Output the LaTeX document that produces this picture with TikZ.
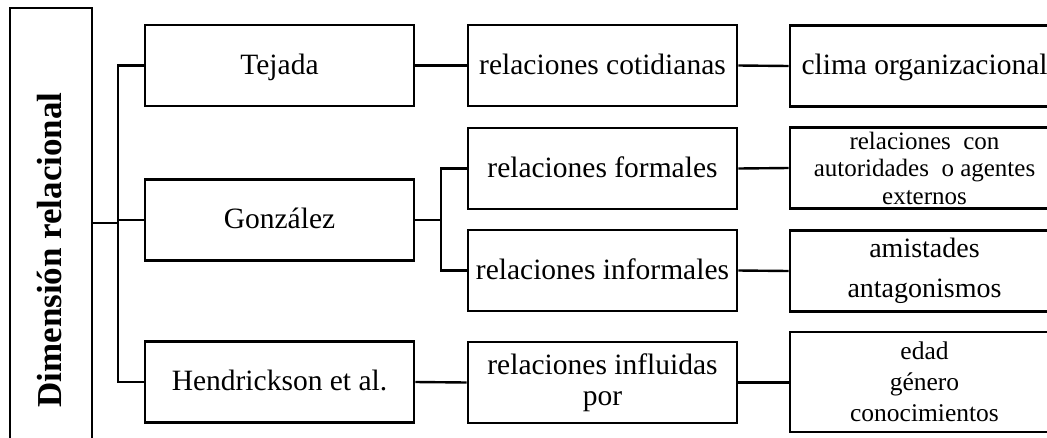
\documentclass[tikz,border=0pt]{standalone}
\usepackage{fontspec}
\setmainfont{Liberation Serif}
\begin{document}
\begin{tikzpicture}[x=1pt,y=-1pt,
  box/.style={draw=black,line width=2.6pt,fill=white,inner sep=0pt,minimum width=269pt,minimum height=81pt,align=center,font=\fontsize{29.5}{34}\selectfont},
  one/.style={text height=20pt,text depth=3pt},
  conn/.style={draw=black,line width=2.4pt}]
\useasboundingbox (0,0) rectangle (1047,437);
\clip (0,0) rectangle (1047,437);
% left box
\node[box,minimum width=82pt,minimum height=500pt] (L) at (51,258) {};
\node[rotate=90,font=\bfseries\fontsize{35}{40}\selectfont] (Lt) at (50,250) {Dimensión relacional};
% column 1
\node[box,one] (A) at (279.5,65.5) {Tejada};
\node[box,one] (B) at (279.5,220) {González};
\node[box,one] (C) at (279.5,382) {Hendrickson et al.};
% column 2
\node[box,one] (A2) at (602.5,65.5) {relaciones cotidianas};
\node[box,one] (F) at (602.5,168.5) {relaciones formales};
\node[box,one] (I) at (602.5,270.5) {relaciones informales};
\node[box,font=\fontsize{29.5}{31}\selectfont] (C2) at (602.5,382.5) {relaciones influidas\\por};
% column 3
\node[box,one] (A3) at (924.5,66) {clima organizacional};
\node[box,font=\fontsize{25}{27.5}\selectfont] (F3) at (924.5,168) {relaciones\ \ con\\autoridades\ \ o agentes\\externos};
\node[box,font=\fontsize{28}{40}\selectfont] (I3) at (924.5,271) {amistades\\antagonismos};
\node[box,minimum height=100pt,font=\fontsize{25.5}{31}\selectfont] (C3) at (924.5,382) {edad\\género\\conocimientos};
% connectors
\coordinate (t) at (118,223);
\draw[conn] (L.east |- t) -- (t);
\draw[conn] (A.west) -| (t) |- (C.west);
\draw[conn] (t |- B.west) -- (B.west);
\draw[conn] (A.east) -- (A2.west);
\coordinate (g) at (441,220);
\draw[conn] (B.east) -- (g);
\draw[conn] (F.west) -| (g) |- (I.west);
\draw[conn] (C.east) -- (C2.west);
\draw[conn] (A2.east) -- (A3.west);
\draw[conn] (F.east) -- (F3.west);
\draw[conn] (I.east) -- (I3.west);
\draw[conn] (C2.east) -- (C3.west |- C2.east);
\end{tikzpicture}
\end{document}
